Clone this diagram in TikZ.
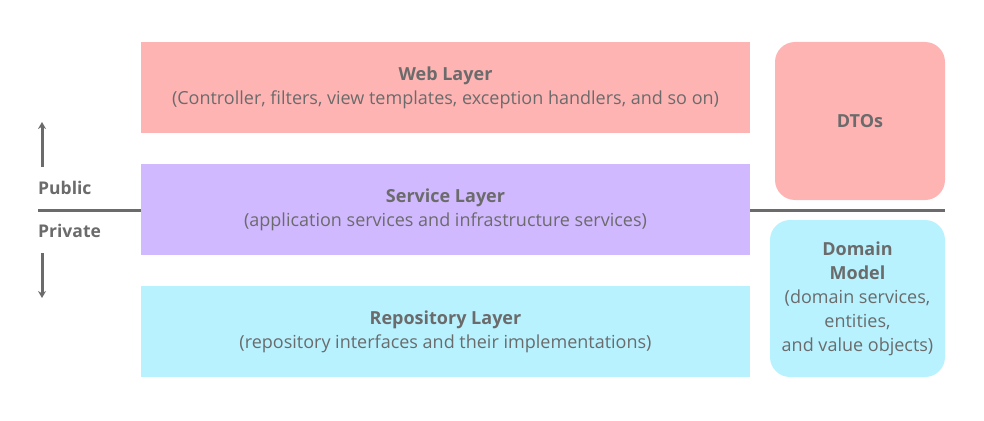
\documentclass[tikz,border=0pt]{standalone}
\usepackage{fontspec}
\setmainfont{Open Sans}
\usetikzlibrary{arrows.meta}
\definecolor{txt}{HTML}{6B6B6B}
\definecolor{webc}{HTML}{FFB4B4}
\definecolor{svcc}{HTML}{D1B9FF}
\definecolor{repc}{HTML}{B8F2FF}
\tikzset{
  layer/.style={draw=none, inner sep=0pt, text=txt, align=center, font=\fontsize{18}{24}\selectfont},
  sep/.style={draw=txt, line width=3pt},
  lbl/.style={text=txt, font=\bfseries\fontsize{17.5}{20}\selectfont, anchor=west, inner sep=0pt},
  arr/.style={draw=txt, line width=3pt, -{Stealth[length=7pt,width=8pt]}}
}
\begin{document}
\begin{tikzpicture}[x=1pt,y=-1pt]
\useasboundingbox (0,0) rectangle (984,420);
\path[fill=webc] (141,42) rectangle (750,133);
\node[layer] (web) at (445.5,87.5) {\textbf{Web Layer}\\(Controller, filters, view templates, exception handlers, and so on)};
\path[fill=svcc] (141,164) rectangle (750,255);
\node[layer] (svc) at (445.5,209.5) {\textbf{Service Layer}\\(application services and infrastructure services)};
\path[fill=repc] (141,286) rectangle (750,377);
\node[layer] (rep) at (445.5,331.5) {\textbf{Repository Layer}\\(repository interfaces and their implementations)};
\path[fill=webc, rounded corners=20pt] (775,42) rectangle (945,200);
\node[layer] (dto) at (860,121) {\textbf{DTOs}};
\path[fill=repc, rounded corners=20pt] (770,220) rectangle (945,377);
\node[layer] (dom) at (857.5,298.5) {\textbf{Domain}\\\textbf{Model}\\(domain services,\\entities,\\and value objects)};
\coordinate (l0) at (38,210);
\coordinate (l1) at (141,210);
\coordinate (r0) at (750,210);
\coordinate (r1) at (945,210);
\draw[sep] (l0) -- (l1);
\draw[sep] (r0) -- (r1);
\node[lbl] (pub) at (38,188) {Public};
\node[lbl] (priv) at (38,231) {Private};
\coordinate (au0) at (42,167);
\coordinate (au1) at (42,122);
\coordinate (ad0) at (42,253);
\coordinate (ad1) at (42,298);
\draw[arr] (au0) -- (au1);
\draw[arr] (ad0) -- (ad1);
\end{tikzpicture}
\end{document}
